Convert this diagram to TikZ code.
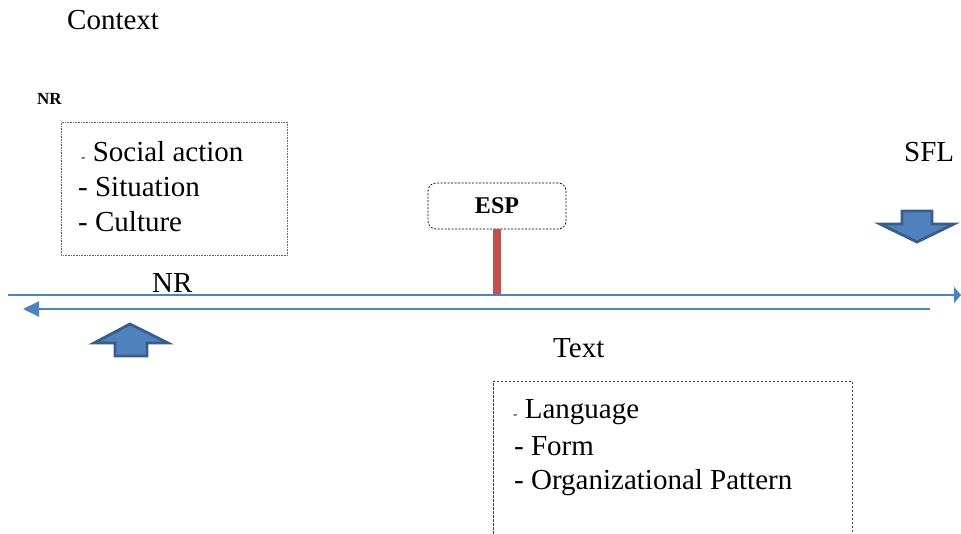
\documentclass[tikz,border=0pt]{standalone}
\usepackage{fontspec}
\setmainfont{Liberation Serif}
\newfontfamily\tnr{Liberation Serif}
\usetikzlibrary{arrows.meta}
\definecolor{lineblue}{HTML}{4F81BD}
\definecolor{arrowborder}{HTML}{385D8A}
\definecolor{barred}{HTML}{C0504D}
\begin{document}
\begin{tikzpicture}[x=1pt,y=-1pt,
  bigtext/.style={font=\tnr\fontsize{29}{32}\selectfont, inner sep=0pt, anchor=base west},
  smallbold/.style={font=\tnr\fontsize{17}{20}\selectfont\bfseries, inner sep=0pt, anchor=base west},
  dotbox/.style={draw=black!60, line width=0.6pt, densely dotted, inner sep=0pt, anchor=north west},
  dashbox/.style={draw=black!75, line width=0.7pt, dash pattern=on 2.5pt off 1.5pt, inner sep=0pt, anchor=north west},
  espbox/.style={draw=black, line width=0.7pt, dash pattern=on 2pt off 1.5pt, rounded corners=8pt, inner sep=0pt, minimum width=138pt, minimum height=46pt},
  axis/.style={draw=lineblue, line width=2pt},
  blockarrow/.style={fill=lineblue, draw=arrowborder, line width=2.8pt, line join=miter},
  bar/.style={draw=barred, line width=8pt}
]
\useasboundingbox (0,0) rectangle (961,534);
\fill[white] (0,0) rectangle (961,534);

% labels
\node[bigtext] (context) at (67,30) {Context};
\node[smallbold] (nrtop) at (37,105) {NR};
\node[bigtext] (sfl) at (904,162) {SFL};
\node[bigtext] (nrmid) at (152,293) {NR};
\node[bigtext] (textlbl) at (553,358) {Text};

% context box
\node[dotbox, minimum width=226pt, minimum height=133pt] (ctxbox) at (61,122) {};
\node[bigtext] (ctx1) at (81,162) {{\fontsize{13}{13}\selectfont -} Social action};
\node[bigtext] (ctx2) at (78,197) {- Situation};
\node[bigtext] (ctx3) at (78,232) {- Culture};

% text box
\node[dashbox, minimum width=359pt, minimum height=200pt] (txtbox) at (493,381) {};
\node[bigtext] (txt1) at (513,418) {{\fontsize{13}{13}\selectfont -} Language};
\node[bigtext] (txt2) at (514,455) {- Form};
\node[bigtext] (txt3) at (514,489) {- Organizational Pattern};

% ESP
\node[espbox, font=\tnr\fontsize{24}{26}\selectfont\bfseries] (esp) at (497,206) {ESP};
\coordinate (espfoot) at (497,295);
\draw[bar] (esp.south) -- (espfoot);

% axes
\coordinate (l1s) at (8,295);
\coordinate (l1e) at (961,295);
\draw[axis, -{Triangle[length=7pt,width=16pt]}] (l1s) -- (l1e);
\coordinate (l2s) at (930,309);
\coordinate (l2e) at (23,309);
\draw[axis, -{Triangle[length=16pt,width=15pt]}] (l2s) -- (l2e);

% block arrows
\draw[blockarrow] (130,324) -- (168,343) -- (147,343) -- (147,356) -- (115,356) -- (115,343) -- (94,343) -- cycle;
\draw[blockarrow] (917,242) -- (954,224) -- (932,224) -- (932,211) -- (902,211) -- (902,224) -- (880,224) -- cycle;
\end{tikzpicture}
\end{document}
